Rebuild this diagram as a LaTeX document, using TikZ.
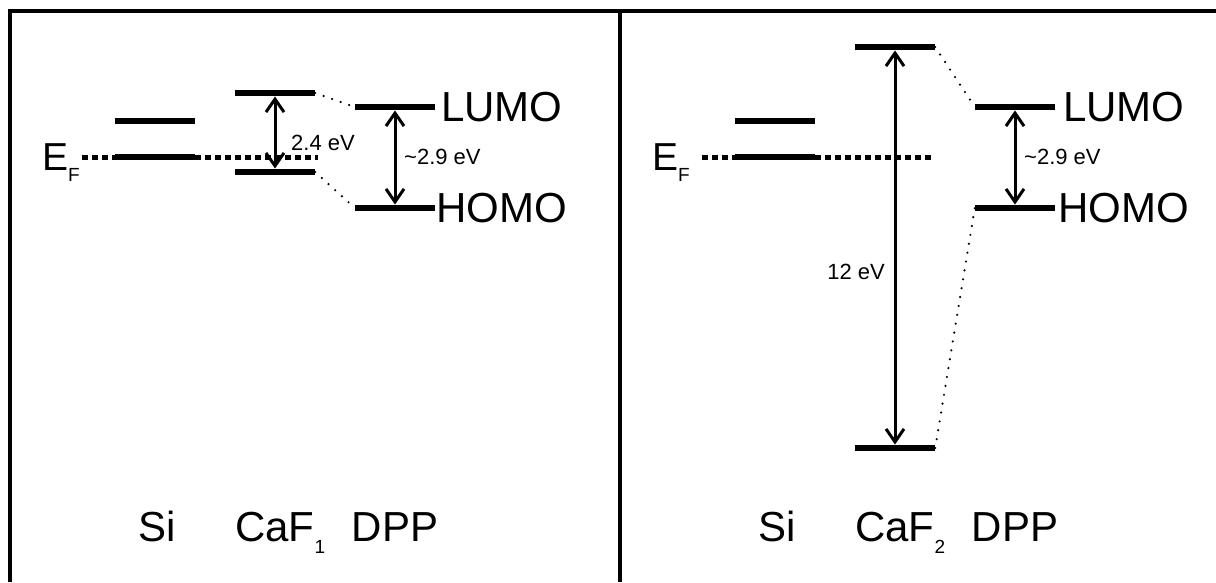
\documentclass[tikz,border=0pt]{standalone}
\usepackage{fontspec}
\setmainfont{Liberation Sans}
\usetikzlibrary{arrows.meta}
\tikzset{
  level/.style={fill=black, inner sep=0pt, minimum width=80pt, minimum height=6.5pt},
  gap/.style={line width=3pt, {Straight Barb[length=13pt,width=18pt]}-{Straight Barb[length=13pt,width=18pt]}},
  fermi/.style={line width=5pt, dash pattern=on 6pt off 4pt},
  link/.style={line width=2.4pt, dash pattern=on 0pt off 9pt, line cap=round},
  big/.style={font=\fontsize{42}{42}\selectfont, inner sep=0pt},
  small/.style={font=\fontsize{22}{22}\selectfont, inner sep=0pt},
}
\newcommand{\lowsub}[1]{\raisebox{-0.3em}{\fontsize{19}{19}\selectfont #1}}
\begin{document}
\begin{tikzpicture}[x=1pt,y=-1pt]
  \useasboundingbox (0,0) rectangle (1216,582);
  % frame
  \draw[line width=3.2pt] (10,582) -- (10,11) -- (1216,11);
  \draw[line width=3.2pt] (620,11) -- (620,582);

  % left panel: CaF1
  \node[level] (siL1) at (155,121) {};
  \node[level] (siL2) at (155,157) {};
  \node[level] (cfL1) at (275,93) {};
  \node[level] (cfL2) at (275,172) {};
  \node[level] (luL) at (395,107) {};
  \node[level] (hoL) at (395,208) {};
  \node[big, anchor=base west, font=\fontsize{39}{39}\selectfont] (efL) at (42,170) {E\lowsub{F}};
  \coordinate (fL0) at (82,157);
  \coordinate (fL1) at (318,157);
  \draw[fermi] (fL0) -- (siL2.west);
  \draw[fermi] (siL2.east) -- (fL1);
  \draw[gap] (cfL1.south) -- (cfL2.north);
  \draw[gap] (luL.south) -- (hoL.north);
  \draw[link] (cfL1.east) -- (luL.west);
  \draw[link] (cfL2.east) -- (hoL.west);
  \node[small, anchor=west] (gL1) at (291,143) {2.4 eV};
  \node[small, anchor=west] (gL2) at (404,157) {\textasciitilde2.9 eV};
  \node[big, anchor=west] (tLu) at (441,107) {LUMO};
  \node[big, anchor=west] (tHo) at (436,208) {HOMO};
  \node[big, anchor=base] (nSiL) at (157,541) {Si};
  \node[big, anchor=base west] (nCfL) at (235,541) {CaF\lowsub{1}};
  \node[big, anchor=base] (nDpL) at (395,541) {DPP};

  % right panel: CaF2
  \node[level] (siR1) at (775,121) {};
  \node[level] (siR2) at (775,157) {};
  \node[level] (cfR1) at (895,47) {};
  \node[level] (cfR2) at (895,448) {};
  \node[level] (luR) at (1015,107) {};
  \node[level] (hoR) at (1015,208) {};
  \node[big, anchor=base west, font=\fontsize{39}{39}\selectfont] (efR) at (652,170) {E\lowsub{F}};
  \coordinate (fR0) at (702,157);
  \coordinate (fR1) at (932,157);
  \draw[fermi] (fR0) -- (siR2.west);
  \draw[fermi] (siR2.east) -- (fR1);
  \draw[gap] (cfR1.south) -- (cfR2.north);
  \draw[gap] (luR.south) -- (hoR.north);
  \draw[link] (cfR1.east) -- (luR.west);
  \draw[link] (cfR2.east) -- (hoR.west);
  \node[small, anchor=east] (gR1) at (885,272) {12 eV};
  \node[small, anchor=west] (gR2) at (1024,157) {\textasciitilde2.9 eV};
  \node[big, anchor=west] (tLuR) at (1063,107) {LUMO};
  \node[big, anchor=west] (tHoR) at (1058,208) {HOMO};
  \node[big, anchor=base] (nSiR) at (777,541) {Si};
  \node[big, anchor=base west] (nCfR) at (855,541) {CaF\lowsub{2}};
  \node[big, anchor=base] (nDpR) at (1015,541) {DPP};
\end{tikzpicture}
\end{document}
